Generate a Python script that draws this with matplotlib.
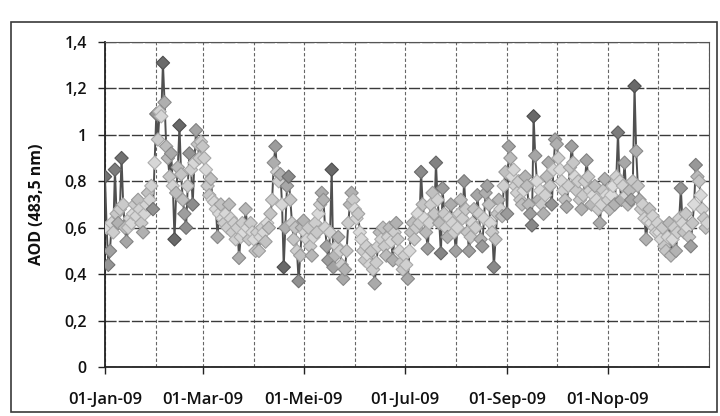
import numpy as np
import pandas as pd
import matplotlib
matplotlib.use("Agg")
import matplotlib.pyplot as plt
import matplotlib.dates as mdates
from matplotlib.patches import Rectangle
from matplotlib.ticker import FuncFormatter

jan = [0.82, 0.60, 0.44, 0.50, 0.62, 0.58, 0.85, 0.66, 0.62, 0.68, 0.90, 0.70, 0.60, 0.54, 0.60, 0.64,
       0.62, 0.66, 0.70, 0.65, 0.72, 0.68, 0.62, 0.58, 0.66, 0.70, 0.75, 0.72, 0.78, 0.68, 0.88]
feb = [1.09, 0.98, 1.10, 1.08, 1.31, 1.14, 0.95, 0.90, 0.82, 0.92, 0.78, 0.55, 0.75, 0.86, 1.04, 0.83,
       0.72, 0.66, 0.60, 0.78, 0.92, 0.85, 0.70, 0.88, 1.02, 0.96, 0.90, 0.97]
mar = [0.95, 0.90, 0.85, 0.78, 0.74, 0.81, 0.72, 0.71, 0.68, 0.56, 0.66, 0.70, 0.64, 0.62, 0.66, 0.60,
       0.70, 0.64, 0.58, 0.62, 0.55, 0.60, 0.47, 0.56, 0.62, 0.58, 0.68, 0.60, 0.55, 0.62, 0.58]
apr = [0.55, 0.50, 0.58, 0.50, 0.56, 0.60, 0.58, 0.54, 0.62, 0.60, 0.66, 0.72, 0.88, 0.95, 0.84, 0.80,
       0.83, 0.70, 0.43, 0.60, 0.78, 0.82, 0.72, 0.62, 0.55, 0.60, 0.50, 0.37, 0.48, 0.60]
may = [0.63, 0.58, 0.55, 0.60, 0.52, 0.48, 0.56, 0.62, 0.58, 0.66, 0.70, 0.75, 0.72, 0.60, 0.52, 0.46,
       0.58, 0.85, 0.43, 0.48, 0.52, 0.56, 0.50, 0.44, 0.38, 0.42, 0.50, 0.62, 0.70, 0.75, 0.72]
jun = [0.68, 0.64, 0.66, 0.58, 0.55, 0.50, 0.46, 0.52, 0.48, 0.44, 0.50, 0.42, 0.36, 0.45, 0.52, 0.58,
       0.55, 0.60, 0.52, 0.48, 0.56, 0.60, 0.54, 0.46, 0.58, 0.62, 0.55, 0.50, 0.45, 0.42]
jul = [0.48, 0.44, 0.38, 0.50, 0.58, 0.62, 0.55, 0.60, 0.66, 0.62, 0.84, 0.70, 0.64, 0.58, 0.51, 0.62,
       0.70, 0.75, 0.66, 0.88, 0.72, 0.62, 0.49, 0.77, 0.66, 0.60, 0.56, 0.64, 0.70, 0.62, 0.58]
aug = [0.50, 0.60, 0.66, 0.72, 0.64, 0.80, 0.68, 0.58, 0.50, 0.56, 0.62, 0.68, 0.60, 0.74, 0.66, 0.55,
       0.52, 0.64, 0.75, 0.78, 0.70, 0.62, 0.58, 0.43, 0.55, 0.66, 0.72, 0.68, 0.65, 0.78, 0.84]
sep = [0.66, 0.95, 0.90, 0.82, 0.85, 0.78, 0.75, 0.80, 0.72, 0.70, 0.76, 0.82, 0.78, 0.70, 0.66, 0.61,
       1.08, 0.91, 0.80, 0.72, 0.76, 0.70, 0.66, 0.74, 0.82, 0.88, 0.78, 0.70, 0.85, 0.98]
oct_ = [0.96, 0.90, 0.85, 0.80, 0.76, 0.72, 0.69, 0.78, 0.86, 0.95, 0.88, 0.82, 0.76, 0.80, 0.72, 0.68,
        0.74, 0.80, 0.89, 0.82, 0.76, 0.70, 0.74, 0.78, 0.72, 0.68, 0.62, 0.70, 0.76, 0.81, 0.74]
nov = [0.72, 0.68, 0.74, 0.78, 0.70, 0.82, 1.01, 0.80, 0.72, 0.78, 0.88, 0.74, 0.70, 0.76, 0.72, 0.80,
       1.21, 0.93, 0.78, 0.72, 0.68, 0.70, 0.64, 0.55, 0.63, 0.68, 0.62, 0.65, 0.60, 0.58]
dec = [0.62, 0.58, 0.55, 0.60, 0.52, 0.50, 0.56, 0.62, 0.48, 0.55, 0.60, 0.50, 0.58, 0.64, 0.77, 0.62,
       0.58, 0.66, 0.60, 0.56, 0.52, 0.62, 0.70, 0.87, 0.82, 0.80, 0.74, 0.68, 0.64, 0.60, 0.62]

values = jan + feb + mar + apr + may + jun + jul + aug + sep + oct_ + nov + dec
dates = pd.date_range("2009-01-01", periods=len(values), freq="D")

xtick_dates = pd.to_datetime(["2009-01-01", "2009-03-01", "2009-05-01",
                              "2009-07-01", "2009-09-01", "2009-11-01"])
xtick_labels = ["01-Jan-09", "01-Mar-09", "01-Mei-09", "01-Jul-09", "01-Sep-09", "01-Nop-09"]
yticks = [0, 0.2, 0.4, 0.6, 0.8, 1.0, 1.2, 1.4]
ylabel = "AOD (483,5 nm)"

plt.rcParams['font.family'] = ['Open Sans', 'DejaVu Sans']

fig = plt.figure(figsize=(7.2, 4.16), dpi=100)
ax = fig.add_axes([105/720, 1-367/416, 604/720, (367-42)/416])

# outer chart frame
fig.patches.append(Rectangle((11/720, 1-412/416), (717-11)/720, (412-22)/416,
                             transform=fig.transFigure, fill=False,
                             edgecolor='#3a3a3a', linewidth=1.2))

# line
ax.plot(dates, values, color='#505050', linewidth=1.4, zorder=3)

# marker shading: isolated extremes look darker (as in scanned gradient markers)
s = pd.Series(values)
dev = (s - s.rolling(7, center=True, min_periods=1).mean()).abs().to_numpy()
shade = np.clip(dev / 0.25, 0, 1)
face = [(0.86 - 0.45 * t,) * 3 for t in shade]
edge = [(0.70 - 0.40 * t,) * 3 for t in shade]
ax.scatter(dates, values, marker='D', s=46, c=face, edgecolors=edge, linewidths=0.8, zorder=4)

ax.set_xlim(pd.Timestamp("2009-01-01"), pd.Timestamp("2010-01-01"))
ax.set_ylim(0, 1.4)

ax.set_yticks(yticks)
ax.yaxis.set_major_formatter(FuncFormatter(lambda v, p: ("%g" % round(v, 1)).replace('.', ',')))
ax.set_xticks(xtick_dates)
ax.set_xticklabels(xtick_labels)
ax.xaxis.set_minor_locator(mdates.MonthLocator())

ax.grid(True, axis='y', color='#3a3a3a', linewidth=1.0, linestyle=(0, (8, 1.5)))
ax.grid(True, axis='x', which='both', color='#666666', linewidth=0.8, linestyle=(0, (3, 2)))
ax.set_axisbelow(True)

for sp in ['top', 'right']:
    ax.spines[sp].set_color('#555555')
    ax.spines[sp].set_linewidth(0.8)
for sp in ['left', 'bottom']:
    ax.spines[sp].set_color('#222222')
    ax.spines[sp].set_linewidth(1.3)

ax.tick_params(axis='y', direction='out', length=5, width=1, pad=8,
               labelsize=11.5, labelcolor='#111111', color='#222222')
ax.tick_params(axis='x', which='major', direction='out', length=5, width=1, pad=13,
               labelsize=12, labelcolor='#111111', color='#222222')
ax.tick_params(axis='x', which='minor', length=0)
for lab in ax.get_xticklabels() + ax.get_yticklabels():
    lab.set_fontweight('semibold')

ax.set_ylabel(ylabel, fontsize=11.5, fontweight='bold', color='#111111', labelpad=14)

fig.savefig("out.png", dpi=100)
